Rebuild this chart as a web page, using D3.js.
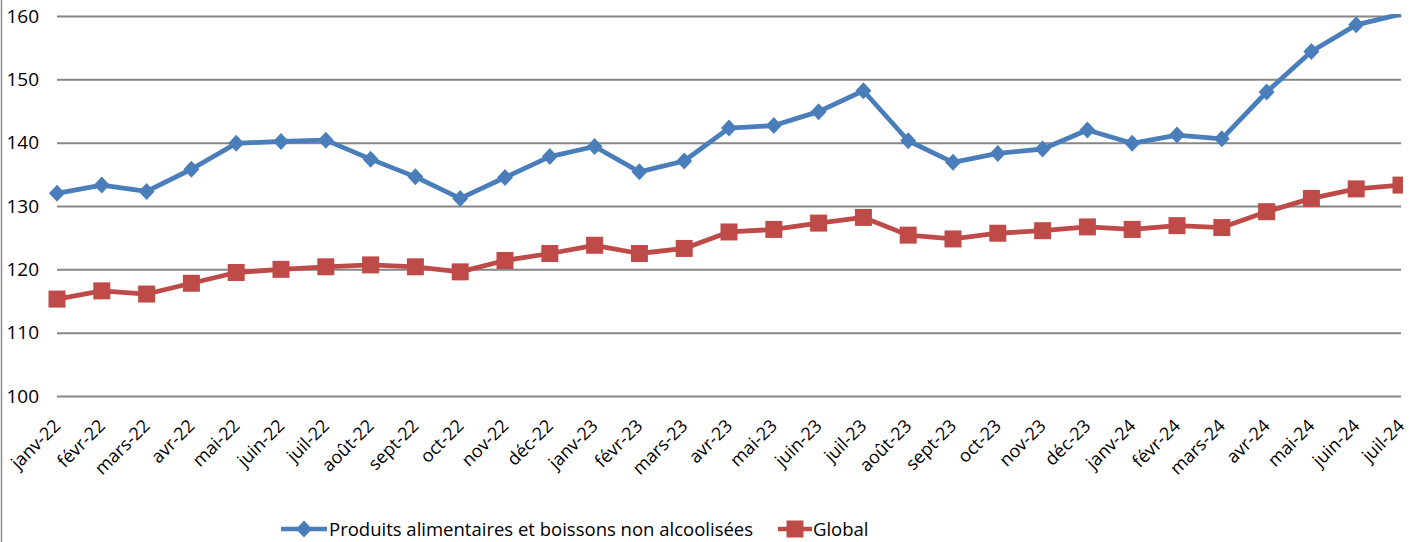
<!DOCTYPE html>
<html><head><meta charset="utf-8">
<script src="https://cdn.jsdelivr.net/npm/d3@7/dist/d3.min.js"></script>
<style>body{margin:0;background:#fff}svg{display:block}text{font-family:"Open Sans",sans-serif;fill:#000}</style>
</head><body><svg id="c" width="1415" height="542"></svg>
<script>
const categories = ["janv-22","févr-22","mars-22","avr-22","mai-22","juin-22","juil-22","août-22","sept-22","oct-22","nov-22","déc-22","janv-23","févr-23","mars-23","avr-23","mai-23","juin-23","juil-23","août-23","sept-23","oct-23","nov-23","déc-23","janv-24","févr-24","mars-24","avr-24","mai-24","juin-24","juil-24"];
const foodValues = [132.0,133.3,132.3,135.8,139.9,140.2,140.4,137.4,134.6,131.2,134.5,137.8,139.4,135.4,137.1,142.3,142.7,144.9,148.2,140.3,136.9,138.3,139.0,142.0,139.9,141.2,140.6,148.0,154.4,158.6,160.3];
const globalValues = [115.3,116.6,116.1,117.8,119.5,120.0,120.4,120.7,120.4,119.6,121.4,122.5,123.8,122.5,123.3,125.9,126.3,127.3,128.2,125.4,124.8,125.7,126.1,126.7,126.3,126.9,126.6,129.1,131.2,132.7,133.3];
const yTicks = [100,110,120,130,140,150,160];
const seriesNames = ["Produits alimentaires et boissons non alcoolisées","Global"];

const svg = d3.select("#c");
const L = 57, R = 1401, T = 16, B = 396;
const x = d3.scalePoint().domain(categories).range([L, R]);
const y = d3.scaleLinear().domain([100,160]).range([B, T]);

// left border
svg.append("line").attr("x1",1.5).attr("x2",1.5).attr("y1",0).attr("y2",542).attr("stroke","#8c8c8c").attr("stroke-width",1.5);

// gridlines
const yAxis = d3.axisLeft(y).tickValues(yTicks).tickSize(-(R-L)).tickFormat(d3.format("d"));
const gy = svg.append("g").attr("transform",`translate(${L},0)`).call(yAxis);
gy.select(".domain").remove();
gy.selectAll(".tick line").attr("stroke","#868686").attr("stroke-width",2);
gy.selectAll(".tick text").attr("x",-18).attr("font-size",19).style("font-family","Open Sans").attr("fill","#000");

// x labels
const xAxis = d3.axisBottom(x).tickSize(0);
const gx = svg.append("g").attr("transform",`translate(0,${B})`).call(xAxis);
gx.select(".domain").remove();
gx.selectAll(".tick text").attr("text-anchor","end").attr("font-size",18)
  .attr("dy",0).attr("y",0)
  .attr("transform","translate(4,31) rotate(-45)").attr("fill","#000");

svg.append("clipPath").attr("id","pc").append("rect").attr("x",0).attr("y",T-2).attr("width",R+2).attr("height",B-T+10);

const line = d3.line().x((d,i)=>x(categories[i])).y(d=>y(d));
const plot = svg.append("g").attr("clip-path","url(#pc)");

function square(g, cx, cy, col){ g.append("rect").attr("x",cx-8.5).attr("y",cy-8.5).attr("width",17).attr("height",17).attr("fill",col); }
function diamond(g, cx, cy, col){ g.append("path").attr("d",`M${cx},${cy-8.5}L${cx+8},${cy}L${cx},${cy+8.5}L${cx-8},${cy}Z`).attr("fill",col); }

const blue="#4a7ebb", red="#be4b48";
plot.append("path").datum(foodValues).attr("d",line).attr("fill","none").attr("stroke",blue).attr("stroke-width",4.8).attr("stroke-linejoin","round");
plot.append("path").datum(globalValues).attr("d",line).attr("fill","none").attr("stroke",red).attr("stroke-width",4.8).attr("stroke-linejoin","round");
foodValues.forEach((v,i)=>{ if(v<=160) diamond(plot, x(categories[i]), y(v), blue); });
globalValues.forEach((v,i)=>{ square(plot, x(categories[i]), y(v), red); });

// legend
const lg = svg.append("g");
lg.append("line").attr("x1",281).attr("x2",327).attr("y1",529).attr("y2",529).attr("stroke",blue).attr("stroke-width",4.5);
diamond(lg,304,529,blue);
lg.append("text").attr("x",329).attr("y",536).attr("font-size",18.5).text(seriesNames[0]);
lg.append("line").attr("x1",778).attr("x2",812).attr("y1",529).attr("y2",529).attr("stroke",red).attr("stroke-width",4.5);
square(lg,795,529,red);
lg.append("text").attr("x",813).attr("y",536).attr("font-size",18.5).text(seriesNames[1]);
</script></body></html>
